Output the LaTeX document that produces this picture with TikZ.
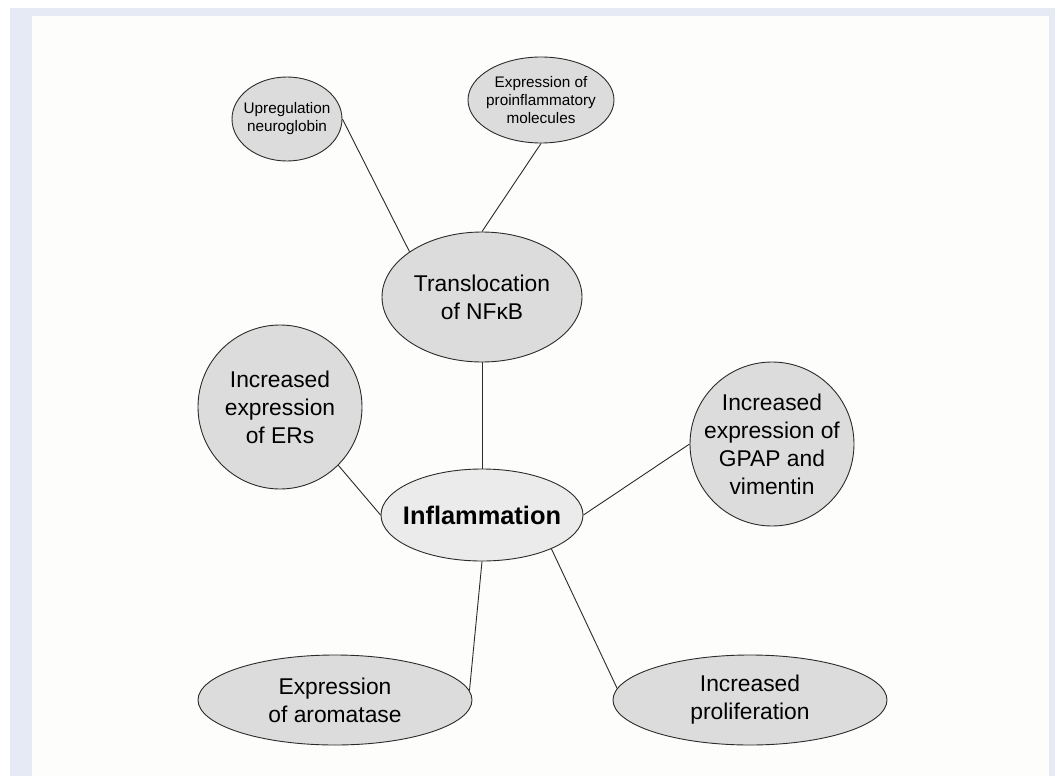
\documentclass[tikz,border=0pt]{standalone}
\usepackage{fontspec}
\setmainfont{Liberation Sans}
\usetikzlibrary{shapes.geometric}
\definecolor{framecol}{HTML}{E6EAF5}
\definecolor{panelcol}{HTML}{FDFDFB}
\definecolor{bubfill}{HTML}{DCDCDC}
\definecolor{inflfill}{HTML}{EBEBEB}
\definecolor{edgecol}{HTML}{2B2B2B}
\begin{document}
\begin{tikzpicture}[x=1pt,y=-1pt,
  bub/.style={ellipse, draw=edgecol, line width=0.9pt, fill=bubfill, inner sep=0pt},
  circ/.style={circle, draw=edgecol, line width=0.9pt, fill=bubfill, inner sep=0pt, minimum size=164pt},
  bigtxt/.style={align=center, inner sep=0pt, font=\fontsize{22.8}{28}\selectfont},
  smalltxt/.style={align=center, inner sep=0pt, font=\fontsize{15.3}{18}\selectfont},
  boldtxt/.style={align=center, inner sep=0pt, font=\fontsize{25.4}{30}\selectfont\bfseries},
  conn/.style={draw=edgecol, line width=0.9pt}]
\useasboundingbox (0,0) rectangle (1058,776);
\fill[white] (0,0) rectangle (1058,776);
\fill[framecol] (10,8) rectangle (1055,776);
\fill[panelcol] (32,16) rectangle (1049,776);

% nodes
\node[bub, minimum width=110pt, minimum height=84pt,
      label={[smalltxt]center:Upregulation\\neuroglobin}] (ng) at (287,119) {};
\node[bub, minimum width=146pt, minimum height=86pt,
      label={[smalltxt]center:Expression of\\proinflammatory\\molecules}] (pm) at (541,100) {};
\node[bub, minimum width=200pt, minimum height=130pt,
      label={[bigtxt]center:Translocation\\of NFκB}] (tr) at (482,297) {};
\node[circ, label={[bigtxt]center:Increased\\expression\\of ERs}] (er) at (280,407) {};
\node[bub, fill=inflfill, minimum width=202pt, minimum height=92pt,
      label={[boldtxt]center:Inflammation}] (inf) at (482,515) {};
\node[circ, label={[bigtxt]center:Increased\\expression of\\GPAP and\\vimentin}] (gp) at (772,444) {};
\node[bub, minimum width=274pt, minimum height=90pt,
      label={[bigtxt]center:Expression\\of aromatase}] (ar) at (335,700) {};
\node[bub, minimum width=274pt, minimum height=90pt,
      label={[bigtxt]center:Increased\\proliferation}] (pr) at (750,700) {};

% connectors
\draw[conn] (ng.east) -- (tr.148);
\draw[conn] (pm.south) -- (tr.north);
\draw[conn] (tr.south) -- (inf.north);
\draw[conn] (er.-45) -- (inf.west);
\draw[conn] (gp.west) -- (inf.east);
\draw[conn] (inf.south) -- (ar.4);
\draw[conn] (inf.-26) -- (pr.175);
\end{tikzpicture}
\end{document}
